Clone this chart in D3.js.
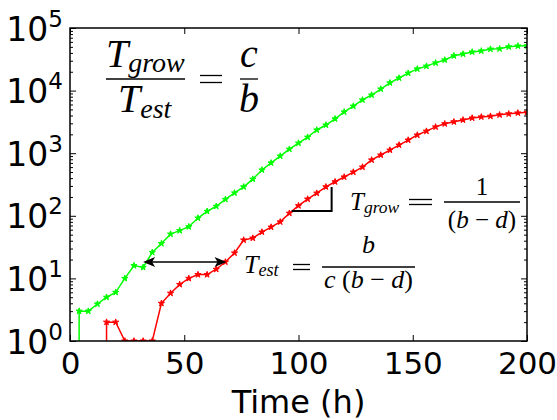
<!DOCTYPE html>
<html>
<head>
<meta charset="utf-8">
<script src="https://cdn.jsdelivr.net/npm/d3@7"></script>
<style>
  body { margin: 0; background: #fff; }
  .math { font-family: "Liberation Serif", "DejaVu Serif", serif; fill: #000; }
</style>
</head>
<body>
<svg width="557" height="420"></svg>
<script>
// sampling times (h)
const times = [0, 4, 8, 12, 16, 20, 24, 28, 32, 36, 40, 44, 48, 52, 56, 60, 64, 68, 72, 76,
  80, 84, 88, 92, 96, 100, 104, 108, 112, 116, 120, 124, 128, 132, 136, 140, 144, 148, 152, 156,
  160, 164, 168, 172, 176, 180, 184, 188, 192, 196, 200];

// green population
const greenValues = [0, 3, 3, 3.9, 5, 6, 10, 16, 15, 26, 36, 51, 58, 67, 92, 118, 142, 183, 232, 290,
  385, 540, 700, 900, 1160, 1450, 1800, 2350, 2820, 3540, 4570, 5650, 7100, 8500, 10600, 13300, 15900, 19000, 22200, 24600,
  27700, 30900, 36000, 38400, 41400, 43000, 46000, 46500, 50000, 51700, 52000];

// red population
const redValues = [0, 0, 0, 0, 2, 2, 1, 1, 1, 1, 4, 5.8, 8, 10, 11.5, 11.5, 14, 18.3, 25.5, 41,
  44, 55, 66, 80, 110, 145, 185, 230, 290, 350, 417, 500, 600, 780, 935, 1120, 1350, 1620, 1950, 2250,
  2630, 2950, 3170, 3400, 3650, 3800, 3900, 4100, 4250, 4400, 4500];

const xTicks = [0, 50, 100, 150, 200];
const yTicks = [1, 10, 100, 1000, 10000, 100000];

const margin = { top: 28, right: 30, bottom: 79, left: 70 },
    width = 557 - margin.left - margin.right,
    height = 420 - margin.top - margin.bottom;

const svg = d3.select("svg");
const g = svg.append("g")
    .attr("transform", "translate(" + margin.left + "," + margin.top + ")");

const x = d3.scaleLinear().domain([0, 200]).range([0, width]);
const y = d3.scaleLog().domain([1, 1e5]).range([height, 0]);

// minor ticks of the log axis (2..9 per decade)
const yMinor = [];
for (let e = 0; e < 5; e++) {
    for (let m = 2; m < 10; m++) yMinor.push(m * Math.pow(10, e));
}

g.append("clipPath").attr("id", "plot-clip")
    .append("rect").attr("width", width).attr("height", height);

// zero counts are pushed far below the axis, like matplotlib's clipping on a log scale
const tiny = 1e-300;
const line = d3.line()
    .x(d => x(d[0]))
    .y(d => y(d[1] > 0 ? d[1] : tiny));

const series = [
    { values: greenValues, color: "#00ff00" },
    { values: redValues, color: "#ff0000" }
];

const plot = g.append("g").attr("clip-path", "url(#plot-clip)");

series.forEach(s => {
    const pts = times.map((t, i) => [t, s.values[i]]);
    plot.append("path")
        .datum(pts)
        .attr("fill", "none")
        .attr("stroke", s.color)
        .attr("stroke-width", 1.5)
        .attr("d", line);
    plot.selectAll(null)
        .data(pts.filter(d => d[1] > 0))
        .enter().append("path")
        .attr("transform", d => "translate(" + x(d[0]) + "," + y(d[1]) + ")")
        .attr("d", d3.symbol().type(d3.symbolStar).size(12))
        .attr("fill", s.color)
        .attr("stroke", s.color)
        .attr("stroke-width", 1);
});

// axes, ticks pointing inward on all four sides
const tickFont = "'DejaVu Sans', sans-serif";

const xAxis = g.append("g")
    .attr("transform", "translate(0," + height + ")")
    .call(d3.axisBottom(x).tickValues(xTicks).tickSizeInner(-6).tickSizeOuter(0).tickPadding(11));
xAxis.selectAll("text").style("font-family", tickFont).style("font-size", "31px").attr("fill", "#000");

g.append("g")
    .call(d3.axisTop(x).tickValues(xTicks).tickSizeInner(-6).tickSizeOuter(0).tickFormat(""));

const yAxis = g.append("g")
    .call(d3.axisLeft(y).tickValues(yTicks).tickSizeInner(-6).tickSizeOuter(0).tickPadding(7));
yAxis.selectAll("text").each(function(d) {
    const t = d3.select(this);
    t.text(null).attr("dy", null).attr("y", 12)
        .style("font-family", tickFont).style("font-size", "33px").attr("fill", "#000");
    t.append("tspan").text("10");
    t.append("tspan").attr("dy", -14).style("font-size", "23px").text(Math.round(Math.log10(d)));
});

g.append("g")
    .call(d3.axisLeft(y).tickValues(yMinor).tickSizeInner(-3).tickSizeOuter(0).tickFormat(""));
g.append("g").attr("transform", "translate(" + width + ",0)")
    .call(d3.axisRight(y).tickValues(yTicks).tickSizeInner(-6).tickSizeOuter(0).tickFormat(""));
g.append("g").attr("transform", "translate(" + width + ",0)")
    .call(d3.axisRight(y).tickValues(yMinor).tickSizeInner(-3).tickSizeOuter(0).tickFormat(""));

g.selectAll(".domain").remove();
g.selectAll(".tick line").attr("stroke", "#000");

g.append("rect")
    .attr("width", width).attr("height", height)
    .attr("fill", "none").attr("stroke", "#000").attr("stroke-width", 1.5);

g.append("text")
    .attr("x", width / 2).attr("y", height + 72)
    .attr("text-anchor", "middle")
    .style("font-family", tickFont).style("font-size", "32px")
    .text("Time (h)");

// double arrow between the two curves (T_est)
const arrowY = y(18.3);
const ax0 = x(32), ax1 = x(68.5);
g.append("line")
    .attr("x1", ax0 + 8).attr("x2", ax1 - 8)
    .attr("y1", arrowY).attr("y2", arrowY)
    .attr("stroke", "#000").attr("stroke-width", 1.5);
[[ax0, 1], [ax1, -1]].forEach(([px, dir]) => {
    g.append("path")
        .attr("d", "M" + px + "," + arrowY + "l" + (12 * dir) + ",-5l" + (-3 * dir) + ",5l" + (3 * dir) + ",5z")
        .attr("fill", "#000");
});

// slope bracket (T_grow)
g.append("path")
    .attr("d", "M" + x(97) + "," + y(119) + "H" + x(114.5) + "V" + y(288))
    .attr("fill", "none").attr("stroke", "#000").attr("stroke-width", 2);

// formulas
function frac(px, barY, w, num, den, numY, denY, size) {
    svg.append("line").attr("x1", px).attr("x2", px + w).attr("y1", barY).attr("y2", barY)
        .attr("stroke", "#000").attr("stroke-width", 1.3);
    const n = svg.append("text").attr("class", "math").attr("x", px + w / 2).attr("y", numY)
        .attr("text-anchor", "middle").style("font-size", size + "px");
    num(n);
    const m = svg.append("text").attr("class", "math").attr("x", px + w / 2).attr("y", denY)
        .attr("text-anchor", "middle").style("font-size", size + "px");
    den(m);
}
function sym(px, py, size, base, sub, subDy) {
    const t = svg.append("text").attr("class", "math").attr("x", px).attr("y", py)
        .style("font-size", size + "px").style("font-style", "italic");
    t.append("tspan").text(base);
    if (sub) t.append("tspan").attr("dy", subDy).style("font-size", (size * 0.7) + "px").text(sub);
    return t;
}
// equals sign drawn as two bars, as wide as the TeX one
function eq(x0, x1, cy, gap) {
    [cy - gap / 2, cy + gap / 2].forEach(yy => {
        svg.append("line").attr("x1", x0).attr("x2", x1).attr("y1", yy).attr("y2", yy)
            .attr("stroke", "#000").attr("stroke-width", 1.3);
    });
}

// T_grow / T_est = c / b
sym(106, 67, 40, "T", "grow", 5);
sym(118, 112, 40, "T", "est", 6);
svg.append("line").attr("x1", 106).attr("x2", 185).attr("y1", 79).attr("y2", 79)
    .attr("stroke", "#000").attr("stroke-width", 1.5);
eq(200, 222, 79, 7);
frac(240, 79, 18, t => t.style("font-style", "italic").text("c"),
    t => t.style("font-style", "italic").text("b"), 67, 112, 40);

// T_grow = 1 / (b - d)
sym(350, 210, 25, "T", "grow", 3);
eq(409, 432, 202, 5);
frac(444, 202, 76, t => t.text("1"), t => {
    t.append("tspan").text("(");
    t.append("tspan").style("font-style", "italic").text("b");
    t.append("tspan").text(" \u2212 ");
    t.append("tspan").style("font-style", "italic").text("d");
    t.append("tspan").text(")");
}, 195, 228, 25);

// T_est = b / (c (b - d))
sym(244, 273, 26, "T", "est", 3);
eq(293, 310, 267, 5);
frac(322, 267, 93, t => t.style("font-style", "italic").text("b"), t => {
    t.append("tspan").style("font-style", "italic").text("c");
    t.append("tspan").text(" (");
    t.append("tspan").style("font-style", "italic").text("b");
    t.append("tspan").text(" \u2212 ");
    t.append("tspan").style("font-style", "italic").text("d");
    t.append("tspan").text(")");
}, 253, 288, 26);
</script>
</body>
</html>
